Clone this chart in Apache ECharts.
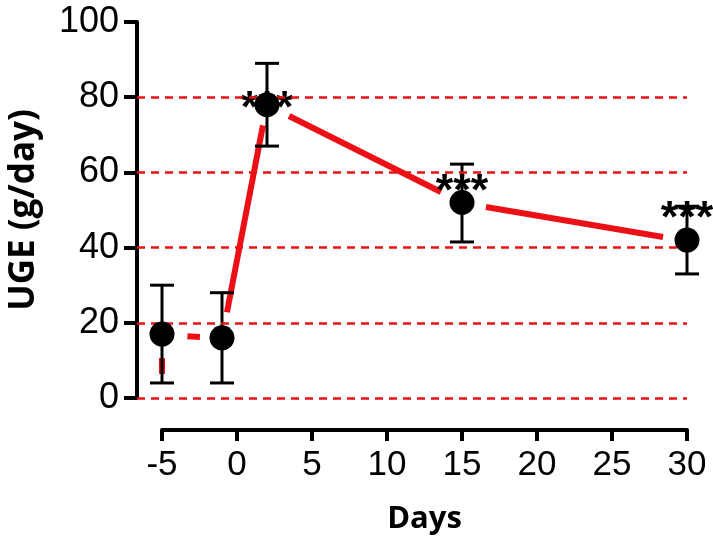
<!DOCTYPE html>
<html>
<head>
<meta charset="utf-8">
<script src="https://cdn.jsdelivr.net/npm/echarts@6/dist/echarts.min.js"></script>
<style>
  html, body { margin: 0; padding: 0; background: #fff; }
  #chart { width: 713px; height: 542px; }
</style>
</head>
<body>
<div id="chart"></div>
<script>
// data
var days = [-5, -1, 2, 15, 30];
var uge = [17, 16, 78, 52, 42];
var errLow = [4, 4, 67, 41.5, 33];
var errHigh = [30, 28, 89, 62.2, 51];

// visible pieces of the red connecting line [x1, y1, x2, y2]
var redSegments = [
    [-5, 6.4, -5, 10.6],
    [-3.31, 16.4, -2.47, 16.2],
    [-0.67, 22.8, 1.73, 72.5],
    [3.47, 75, 13.6, 54.8],
    [16.6, 50.8, 28.4, 42.8]
];

// significance marks
var starDays = [2, 15, 30];
var starY = [79.3, 57.4, 50];

var gridValues = [0, 20, 40, 60, 80];

var RED = '#ea1016';
var FONT = 'Liberation Sans';

var myChart = echarts.init(document.getElementById('chart'));

var option = {
    animation: false,
    backgroundColor: '#fff',
    grid: [
        { left: 137, right: 26, top: 22, bottom: 144, outerBoundsMode: 'none' },
        { left: 162, right: 26, top: 22, bottom: 144, outerBoundsMode: 'none' }
    ],
    xAxis: [
        {   // data axis, same scale as the visible one but reaching the y axis
            gridIndex: 0, type: 'value', min: -5 - 25 / 15, max: 30,
            show: false
        },
        {
            gridIndex: 1, type: 'value', min: -5, max: 30, interval: 5,
            offset: 32,
            name: 'Days', nameLocation: 'middle', nameGap: 74,
            nameTextStyle: { fontFamily: 'Open Sans', fontWeight: 'bold', fontSize: 31, color: '#000' },
            axisLine: { show: true, onZero: false, lineStyle: { color: '#000', width: 4 } },
            axisTick: { show: true, length: 11, lineStyle: { color: '#000', width: 4 } },
            axisLabel: { margin: 18, fontFamily: FONT, fontSize: 35, color: '#000' },
            splitLine: { show: false }
        }
    ],
    yAxis: [
        {
            gridIndex: 0, type: 'value', min: 0, max: 100, interval: 20,
            name: 'UGE (g/day)', nameLocation: 'middle', nameGap: 95, nameRotate: 90,
            nameTextStyle: { fontFamily: 'Open Sans', fontWeight: 'bold', fontSize: 35, color: '#000' },
            axisLine: { show: true, onZero: false, lineStyle: { color: '#000', width: 4 } },
            axisTick: { show: true, length: 13, lineStyle: { color: '#000', width: 4 } },
            axisLabel: { margin: 18, fontFamily: FONT, fontSize: 36, color: '#000' },
            splitLine: { show: false }
        },
        { gridIndex: 1, type: 'value', min: 0, max: 100, show: false }
    ],
    series: [
        {
            type: 'lines',
            coordinateSystem: 'cartesian2d',
            xAxisIndex: 0, yAxisIndex: 0,
            z: 2,
            lineStyle: { color: RED, width: 6, opacity: 1, cap: 'butt' },
            data: redSegments.map(function (s) {
                return { coords: [[s[0], s[1]], [s[2], s[3]]] };
            }),
            markLine: {
                silent: true,
                symbol: 'none',
                label: { show: false },
                lineStyle: { color: RED, width: 2.5, type: [8, 6] },
                data: gridValues.map(function (v) { return { yAxis: v }; })
            }
        },
        {
            type: 'custom',
            xAxisIndex: 0, yAxisIndex: 0,
            z: 3,
            data: days.map(function (d, i) { return [d, errLow[i], errHigh[i]]; }),
            renderItem: function (params, api) {
                var lo = api.coord([api.value(0), api.value(1)]);
                var hi = api.coord([api.value(0), api.value(2)]);
                var hw = 12;
                var st = { stroke: '#000', lineWidth: 3 };
                return {
                    type: 'group',
                    children: [
                        { type: 'line', shape: { x1: lo[0], y1: lo[1], x2: hi[0], y2: hi[1] }, style: st },
                        { type: 'line', shape: { x1: lo[0] - hw, y1: lo[1], x2: lo[0] + hw, y2: lo[1] }, style: st },
                        { type: 'line', shape: { x1: hi[0] - hw, y1: hi[1], x2: hi[0] + hw, y2: hi[1] }, style: st }
                    ]
                };
            }
        },
        {
            type: 'scatter',
            xAxisIndex: 0, yAxisIndex: 0,
            z: 4,
            symbolSize: 0,
            itemStyle: { opacity: 1 },
            data: starDays.map(function (d, i) { return [d, starY[i]]; }),
            label: {
                show: true, position: 'inside', formatter: '***',
                offset: [0, 10],
                fontFamily: FONT, fontWeight: 'bold', fontSize: 45, color: '#000'
            }
        },
        {
            type: 'scatter',
            xAxisIndex: 0, yAxisIndex: 0,
            z: 5,
            symbol: 'circle', symbolSize: 25,
            itemStyle: { color: '#000', opacity: 1 },
            data: days.map(function (d, i) { return [d, uge[i]]; })
        }
    ]
};

myChart.setOption(option);
</script>
</body>
</html>
